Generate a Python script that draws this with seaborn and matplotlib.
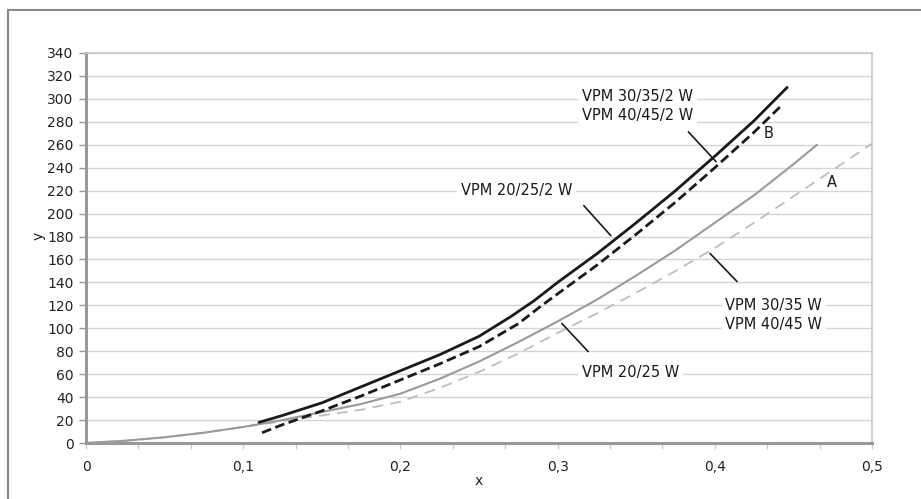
import matplotlib
matplotlib.use("Agg")
from matplotlib import pyplot as plt
from matplotlib.lines import Line2D
import pandas as pd
import seaborn as sns

# curve data
x_20_25 = [0.0, 0.025, 0.05, 0.075, 0.1, 0.125, 0.15, 0.175, 0.2, 0.225,
           0.25, 0.275, 0.3, 0.325, 0.35, 0.375, 0.4, 0.425, 0.45, 0.465]
y_20_25 = [0, 2, 5, 9, 14, 20, 27, 34, 43, 56,
           71, 88, 106, 125, 146, 168, 192, 216, 243, 260]

x_30_35 = [0.0, 0.025, 0.05, 0.075, 0.1, 0.125, 0.15, 0.175, 0.2, 0.225, 0.25,
           0.275, 0.3, 0.325, 0.35, 0.375, 0.4, 0.425, 0.45, 0.475, 0.5]
y_30_35 = [0, 2, 5, 9, 14, 19, 24, 29, 36, 48, 62,
           78, 96, 113, 131, 150, 170, 192, 215, 238, 261]

x_20_25_2 = [0.11, 0.125, 0.15, 0.175, 0.2, 0.225, 0.25, 0.27, 0.285,
             0.3, 0.325, 0.35, 0.375, 0.4, 0.425, 0.446]
y_20_25_2 = [18, 24, 35, 49, 63, 77, 93, 110, 124,
             140, 165, 192, 220, 250, 281, 310]

x_30_35_2 = [0.112, 0.125, 0.15, 0.175, 0.2, 0.225, 0.25, 0.275, 0.29,
             0.3, 0.325, 0.35, 0.375, 0.4, 0.425, 0.443]
y_30_35_2 = [9, 16, 28, 41, 55, 69, 84, 104, 120,
             130, 155, 182, 210, 240, 271, 295]

x_ticks = [0.0, 0.1, 0.2, 0.3, 0.4, 0.5]
x_tick_labels = ["0", "0,1", "0,2", "0,3", "0,4", "0,5"]
y_ticks = list(range(0, 341, 20))

sns.set_style("white")
plt.rcParams["font.family"] = ["DejaVu Sans"]

fig = plt.figure(figsize=(9.21, 4.99), dpi=100)
ax = fig.add_axes([0.0934, 0.1122, 0.8534, 0.7816])

curves = [
    (x_30_35, y_30_35, "#bdbdbd", (0, (6, 4)), 1.3),
    (x_20_25, y_20_25, "#9a9a9a", "-", 1.5),
    (x_30_35_2, y_30_35_2, "#1a1a1a", (0, (3.5, 1.6)), 2.0),
    (x_20_25_2, y_20_25_2, "#1a1a1a", "-", 2.0),
]
for xs, ys, col, ls, lw in curves:
    df = pd.DataFrame({"x": xs, "y": ys})
    sns.lineplot(data=df, x="x", y="y", ax=ax, color=col, linestyle=ls,
                 linewidth=lw, sort=False, zorder=3)

ax.set_xlim(0, 0.5)
ax.set_ylim(0, 340)
ax.set_yticks(y_ticks)
ax.set_xticks(x_ticks)
ax.set_xticklabels(x_tick_labels)
ax.set_xticks([i / 30 for i in range(16)], minor=True)
ax.yaxis.grid(True, color="#d4d4d4", linewidth=1.0, zorder=0)
ax.set_axisbelow(True)

for side in ["top", "right"]:
    ax.spines[side].set_color("#c8c8c8")
    ax.spines[side].set_linewidth(1.2)
for side in ["left", "bottom"]:
    ax.spines[side].set_color("#999999")
    ax.spines[side].set_linewidth(2.2)

ax.tick_params(axis="y", which="major", left=True, length=5, width=1,
               color="#999999", labelsize=10, pad=4, labelcolor="#222222")
ax.tick_params(axis="x", which="major", bottom=True, length=4, width=1,
               color="#cccccc", labelsize=10, pad=8, labelcolor="#222222")
ax.tick_params(axis="x", which="minor", bottom=True, length=4, width=1,
               color="#cccccc")

ax.set_xlabel("x", fontsize=10, color="#222222", labelpad=0)
ax.set_ylabel("y", fontsize=10, color="#222222", labelpad=4)
ax.yaxis.set_label_coords(-0.052, 0.53)

txt = dict(fontsize=10.5, color="#1a1a1a", zorder=5,
           bbox=dict(facecolor="white", edgecolor="none", pad=2.5))
arrow = dict(arrowstyle="-", color="#1a1a1a", linewidth=1.2)

ax.text(0.3155, 294, "VPM 30/35/2 W\nVPM 40/45/2 W", ha="left", va="center",
        linespacing=1.3, **txt)
ax.annotate("", xy=(0.402, 243.5), xytext=(0.382, 273), arrowprops=arrow)

ax.text(0.274, 220, "VPM 20/25/2 W", ha="center", va="center", **txt)
ax.annotate("", xy=(0.335, 179), xytext=(0.3155, 208.7), arrowprops=arrow)

ax.text(0.4065, 111.7, "VPM 30/35 W\nVPM 40/45 W", ha="left", va="center",
        linespacing=1.3, **txt)
ax.annotate("", xy=(0.3957, 167), xytext=(0.4154, 139), arrowprops=arrow)

ax.text(0.3155, 61.7, "VPM 20/25 W", ha="left", va="center", **txt)
ax.annotate("", xy=(0.3015, 106), xytext=(0.3206, 78), arrowprops=arrow)

ax.text(0.434, 270, "B", ha="center", va="center", fontsize=10.5, color="#1a1a1a")
ax.text(0.4746, 227, "A", ha="center", va="center", fontsize=10.5, color="#1a1a1a")

# outer frame (top and left edges)
fig.add_artist(Line2D([0.0087, 1.0], [0.979, 0.979], transform=fig.transFigure,
                      color="#888888", linewidth=1.5))
fig.add_artist(Line2D([0.0087, 0.0087], [0.0, 0.979], transform=fig.transFigure,
                      color="#888888", linewidth=1.5))

fig.savefig("out.png", dpi=100)
